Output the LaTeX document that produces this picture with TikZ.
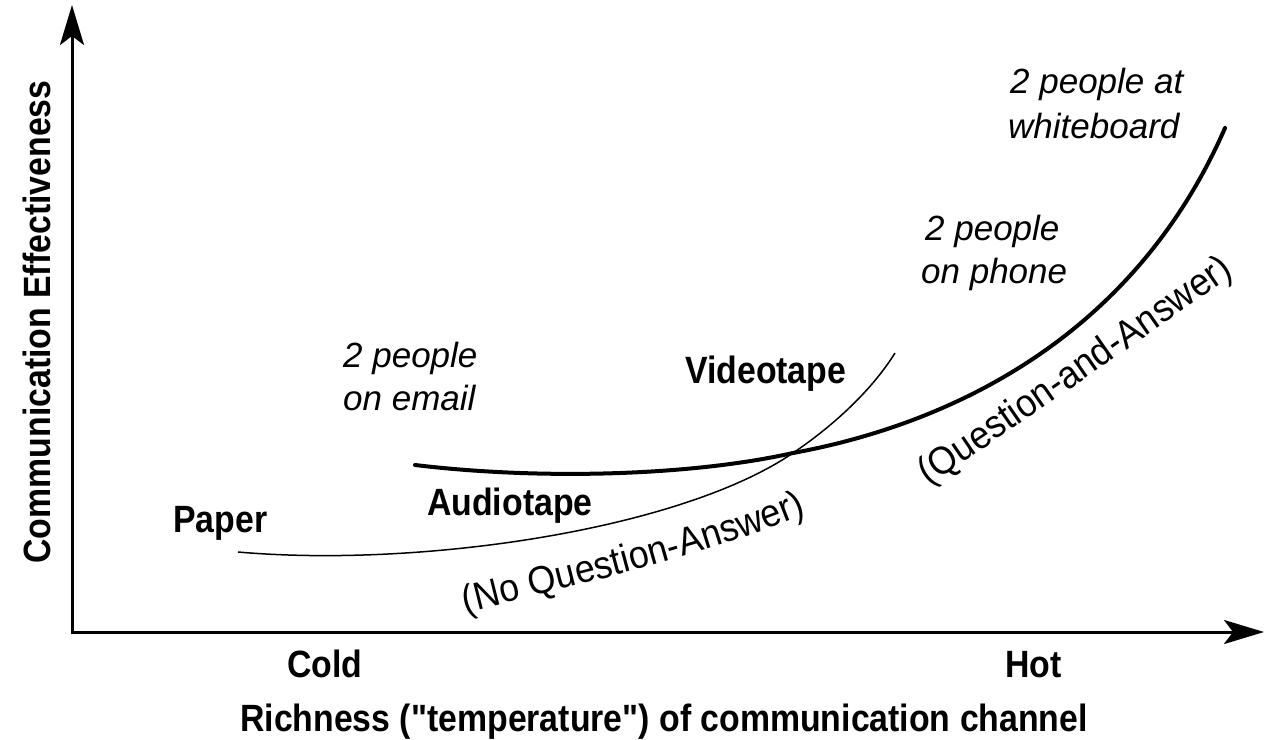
\documentclass[tikz,border=0pt]{standalone}
\usepackage{fontspec}
\setmainfont{Liberation Sans}
\newfontfamily\condfont{Liberation Sans}[FakeStretch=0.89]
\newfontfamily\regfont{Liberation Sans}[FakeStretch=0.92]
\usetikzlibrary{arrows.meta,decorations.text}
\tikzset{
  boldlabel/.style={inner sep=0pt, font=\condfont\bfseries\fontsize{38}{40}\selectfont},
  itlabel/.style={inner sep=0pt, font=\itshape\fontsize{35}{38}\selectfont},
  axisline/.style={line width=3pt, line join=miter,
    {Stealth[length=40pt,width=24pt,inset=9pt]}-{Stealth[length=40pt,width=24pt,inset=9pt]}},
  thickcurve/.style={line width=4pt, line cap=round},
  thincurve/.style={line width=1.5pt},
  curvedtext/.style={decorate, decoration={text along path, text align=center}}
}
\begin{document}
\begin{tikzpicture}[x=1pt,y=1pt]
\useasboundingbox (0,0) rectangle (1266,-739);

% axes
\coordinate (O) at (72,-632);
\coordinate (ytip) at (72,-5);
\coordinate (xtip) at (1264,-632);
\draw[axisline] (ytip) -- (O) -- (xtip);

% axis labels
\node[boldlabel, rotate=90, anchor=base] (ylab) at (50,-322) {Communication Effectiveness};
\node[boldlabel, anchor=base west] (cold) at (287,-677) {Cold};
\node[boldlabel, anchor=base west] (hot) at (1005,-677) {Hot};
\node[boldlabel, anchor=base west] (xlab) at (240,-731) {Richness ("temperature") of communication channel};

% point labels
\node[boldlabel, anchor=base west] (paper) at (173,-532) {Paper};
\node[boldlabel, anchor=base west] (audio) at (427,-515) {Audiotape};
\node[boldlabel, anchor=base west] (video) at (685,-383) {Videotape};

\node[itlabel, anchor=base west] (email1) at (343,-367) {2 people};
\node[itlabel, anchor=base west] (email2) at (343,-410) {on email};
\node[itlabel, anchor=base west] (phone1) at (925,-240) {2 people};
\node[itlabel, anchor=base west] (phone2) at (921,-283) {on phone};
\node[itlabel, anchor=base west] (wb1) at (1010,-93) {2 people at};
\node[itlabel, anchor=base west] (wb2) at (1008,-138) {whiteboard};

% curves
\coordinate (qa0) at (415,-465);
\coordinate (cross) at (793,-453);
\coordinate (qa1) at (1225,-128);
\coordinate (nq0) at (238,-552);
\coordinate (nq1) at (895,-353);
\draw[thickcurve] (qa0) .. controls (540,-480) and (690,-476) .. (cross)
  .. controls (940,-426) and (1130,-345) .. (qa1);
\draw[thincurve] (nq0) .. controls (420,-568) and (680,-530) .. (cross)
  .. controls (830,-428) and (870,-393) .. (nq1);

% curved texts
\path[curvedtext, decoration={text={|\regfont\fontsize{39}{40}\selectfont|(No Question-Answer)}}]
  (462,-614) .. controls (580,-584) and (700,-558) .. (810,-512);
\path[curvedtext, decoration={text={|\regfont\fontsize{39}{40}\selectfont|(Question-and-Answer)}}]
  (927,-487) .. controls (1030,-418) and (1132,-345) .. (1236,-274);
\end{tikzpicture}
\end{document}
